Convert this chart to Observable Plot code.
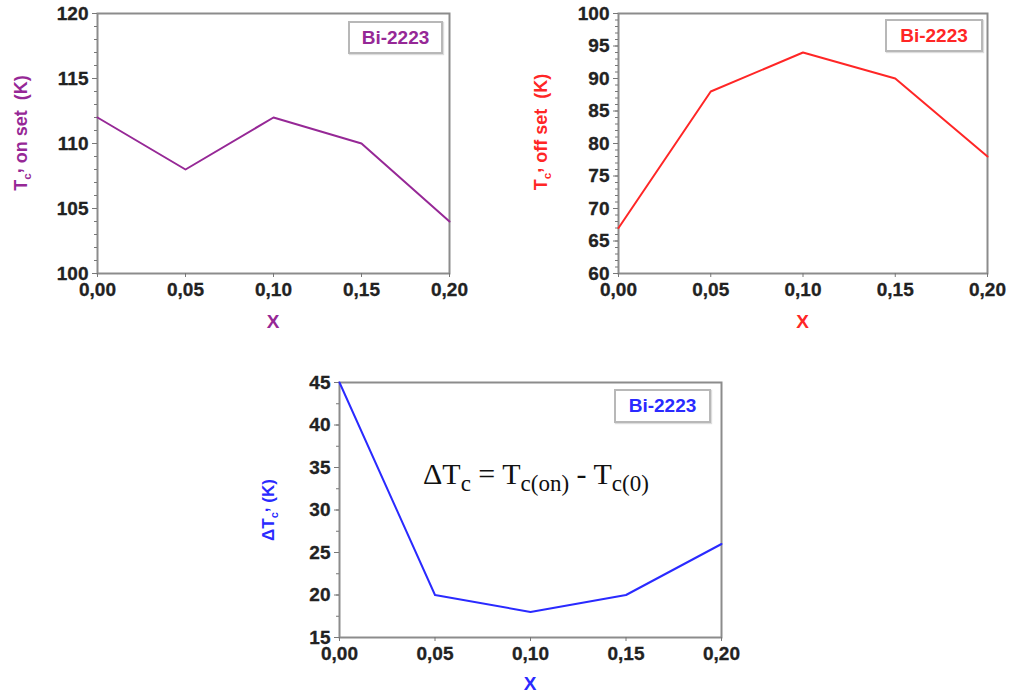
<!DOCTYPE html>
<html>
<head>
<meta charset="utf-8">
<script src="https://cdn.jsdelivr.net/npm/d3@7"></script>
<script src="https://cdn.jsdelivr.net/npm/@observablehq/plot@0.6"></script>
<style>
  html, body { margin: 0; padding: 0; background: #fff; }
  #wrap { position: relative; width: 1010px; height: 700px; overflow: hidden; font-family: "Liberation Sans", Arial, sans-serif; }
  .panel { position: absolute; }
  .legend { position: absolute; box-sizing: border-box; border: 2px solid #b8b8b8; background: #fff;
            box-shadow: 1px 1px 1px #ddd; font: bold 19px "Liberation Sans", Arial, sans-serif;
            display: flex; align-items: center; justify-content: center; }
  .formula { position: absolute; font-family: "Liberation Serif", "Times New Roman", serif; font-size: 30px; color: #111; white-space: nowrap; }
  .formula sub { font-size: 23px; vertical-align: -7px; line-height: 0; }
</style>
</head>
<body>
<div id="wrap"></div>
<script>
// ---- data ----
const xValues = [0, 0.05, 0.10, 0.15, 0.20];
const tcOnset = [112, 108, 112, 110, 104];
const tcOffset = [67, 88, 94, 90, 78];
const deltaTc = [45, 20, 18, 20, 26];
const xTicks = [0, 0.05, 0.10, 0.15, 0.20];
const onsetTicks = [100, 105, 110, 115, 120];
const offsetTicks = [60, 65, 70, 75, 80, 85, 90, 95, 100];
const deltaTicks = [15, 20, 25, 30, 35, 40, 45];
const sampleLabel = "Bi-2223";

const wrap = document.getElementById("wrap");

function range(a, b, step) { const r = []; for (let v = a; v <= b + 1e-9; v += step) r.push(+v.toFixed(4)); return r; }

function panel(cfg) {
  const data = xValues.map((x, i) => ({x, y: cfg.values[i]}));
  const svg = Plot.plot({
    width: cfg.width, height: cfg.height,
    marginLeft: cfg.ml, marginRight: cfg.mr, marginTop: cfg.mt, marginBottom: cfg.mb,
    style: {background: "transparent", fontFamily: "Liberation Sans, Arial, sans-serif", fontSize: "19px", fontWeight: "bold", overflow: "visible"},
    x: {domain: [0, 0.2], label: null},
    y: {domain: cfg.domain, label: null},
    marks: [
      Plot.frame({stroke: "#8c8c8c", strokeWidth: 2}),
      Plot.axisY({ticks: cfg.minor, tickSize: 3, tickFormat: () => "", stroke: "#777", label: null}),
      Plot.axisY({ticks: cfg.ticks, tickSize: 5, tickPadding: 4, tickFormat: d => String(d), stroke: "#777", fill: "#222", textStroke: "#222", textStrokeWidth: 0.3, label: null}),
      Plot.axisX({ticks: xTicks, tickSize: 4, tickPadding: 5, tickFormat: d => d.toFixed(2).replace(".", ","), stroke: "#777", fill: "#222", textStroke: "#222", textStrokeWidth: 0.3, label: null}),
      Plot.line(data, {x: "x", y: "y", stroke: cfg.color, strokeWidth: 2})
    ]
  });
  svg.classList.add("panel");
  svg.style.left = cfg.left + "px";
  svg.style.top = cfg.top + "px";
  const s = d3.select(svg);
  // x label
  s.append("text").attr("x", (cfg.ml + cfg.width - cfg.mr) / 2).attr("y", cfg.xLabelY)
    .attr("text-anchor", "middle").attr("dominant-baseline", "middle")
    .attr("fill", cfg.color).style("font-size", "19px").style("font-weight", "bold").text("X");
  // y label
  const t = s.append("text").attr("transform", `translate(${cfg.yLabelX},${cfg.yLabelY}) rotate(-90)`)
    .attr("text-anchor", "middle").attr("fill", cfg.color)
    .style("font-size", cfg.yLabelSize + "px").style("font-weight", "bold");
  if (cfg.delta) t.append("tspan").text("\u0394");
  t.append("tspan").text("T");
  t.append("tspan").attr("dy", 4).style("font-size", (cfg.yLabelSize * 0.65) + "px").text("c");
  t.append("tspan").attr("dy", -10).text(",");
  t.append("tspan").attr("dy", 6).text(cfg.yLabelRest);
  wrap.appendChild(svg);
  // legend box
  const lg = document.createElement("div");
  lg.className = "legend";
  lg.style.left = cfg.legend[0] + "px"; lg.style.top = cfg.legend[1] + "px";
  lg.style.width = cfg.legend[2] + "px"; lg.style.height = cfg.legend[3] + "px";
  lg.style.color = cfg.color;
  lg.textContent = sampleLabel;
  wrap.appendChild(lg);
}

panel({values: tcOnset, domain: [100, 120], ticks: onsetTicks, minor: range(100, 120, 1),
  color: "#962896", left: 0, top: 0, width: 470, height: 345, ml: 97, mr: 21, mt: 13, mb: 72,
  xLabelY: 323, yLabelX: 27, yLabelY: 133, yLabelSize: 18, yLabelRest: " on set  (K)",
  legend: [348, 21, 95, 33]});

panel({values: tcOffset, domain: [60, 100], ticks: offsetTicks, minor: range(60, 100, 1),
  color: "#ff2626", left: 530, top: 0, width: 480, height: 345, ml: 88, mr: 23, mt: 13, mb: 72,
  xLabelY: 323, yLabelX: 17, yLabelY: 132, yLabelSize: 18, yLabelRest: " off set  (K)",
  legend: [885, 19, 98, 33]});

panel({values: deltaTc, domain: [15, 45], ticks: deltaTicks, minor: range(15, 45, 2.5),
  color: "#2a2aff", left: 250, top: 360, width: 490, height: 340, ml: 89, mr: 19, mt: 22, mb: 63,
  xLabelY: 325, yLabelX: 24, yLabelY: 150, yLabelSize: 17, yLabelRest: " (K)", delta: true,
  legend: [614, 389, 97, 34]});

// formula
const f = document.createElement("div");
f.className = "formula";
f.style.left = "423px"; f.style.top = "457px";
f.innerHTML = "\u0394T<sub>c</sub> = T<sub>c(on)</sub> - T<sub>c(0)</sub>";
wrap.appendChild(f);
</script>
</body>
</html>
